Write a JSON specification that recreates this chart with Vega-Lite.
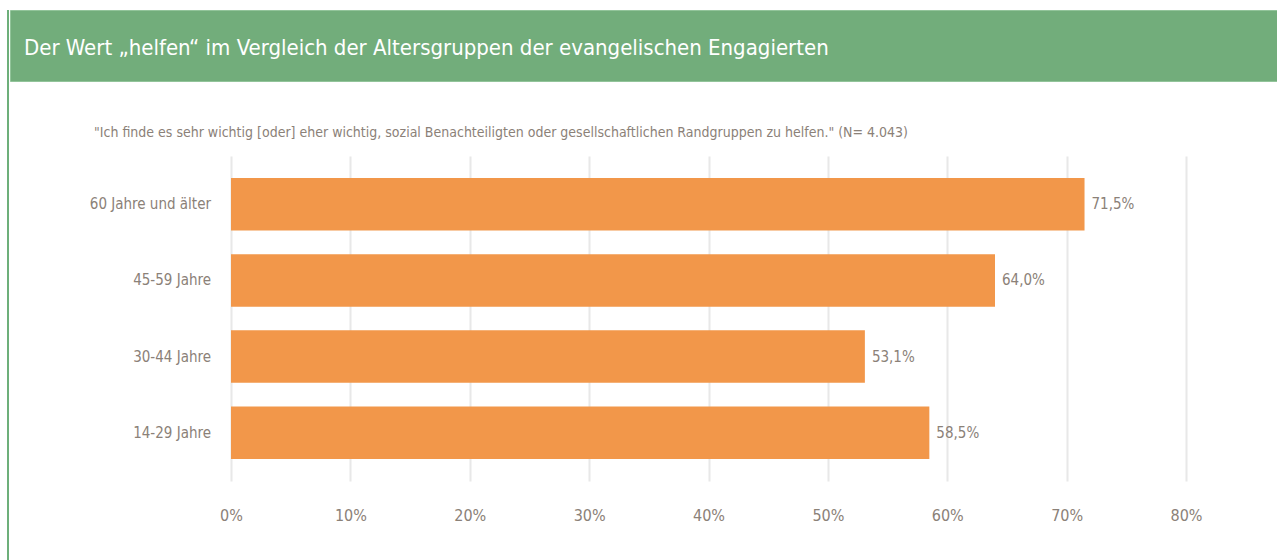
{
  "$schema": "https://vega.github.io/schema/vega-lite/v6.json",
  "padding": {"left": 7, "top": 9, "right": 0, "bottom": 0},
  "background": "white",
  "config": {
    "font": "DejaVu Sans Condensed, Liberation Sans Narrow, Roboto, sans-serif",
    "view": {"stroke": null},
    "locale": {"number": {"decimal": ",", "thousands": ".", "grouping": [3], "currency": ["", " €"]}}
  },
  "datasets": {
    "groups": [
      {"group": "60 Jahre und älter", "share": 0.715},
      {"group": "45-59 Jahre", "share": 0.64},
      {"group": "30-44 Jahre", "share": 0.531},
      {"group": "14-29 Jahre", "share": 0.585}
    ]
  },
  "spacing": 0,
  "hconcat": [
    {
      "data": {"values": []},
      "mark": "text",
      "width": 2,
      "height": 560,
      "view": {"fill": "#6DAF7A", "stroke": null}
    },
    {
      "spacing": 44,
      "vconcat": [
        {
          "width": 1270,
          "height": 71,
          "view": {"fill": "#72AD7B", "stroke": "#92C49A", "strokeWidth": 1},
          "data": {"values": [{"title": "Der Wert „helfen“ im Vergleich der Altersgruppen der evangelischen Engagierten"}]},
          "mark": {"type": "text", "align": "left", "baseline": "middle", "dx": 14, "dy": 2, "color": "white", "fontSize": 22},
          "encoding": {
            "text": {"field": "title"},
            "x": {"datum": 0, "type": "quantitative", "scale": {"domain": [0, 1]}, "axis": null}
          }
        },
        {
          "spacing": 8,
          "title": {
            "text": "\"Ich finde es sehr wichtig [oder] eher wichtig, sozial Benachteiligten oder gesellschaftlichen Randgruppen zu helfen.\" (N= 4.043)",
            "anchor": "start",
            "frame": "group",
            "dx": 84,
            "offset": 16,
            "fontSize": 14,
            "fontWeight": "normal",
            "color": "#8B8178"
          },
          "hconcat": [
            {
              "width": 201,
              "height": 325,
              "data": {"name": "groups"},
              "mark": {"type": "text", "align": "right", "baseline": "middle", "fontSize": 15, "color": "#8B8178"},
              "encoding": {
                "text": {"field": "group"},
                "y": {"field": "group", "type": "nominal", "sort": null, "scale": {"type": "band", "paddingInner": 0.31, "paddingOuter": 0.29}, "axis": null},
                "x": {"datum": 1, "type": "quantitative", "scale": {"domain": [0, 1]}, "axis": null}
              }
            },
            {
              "width": 955,
              "height": 325,
              "data": {"name": "groups"},
              "encoding": {
                "y": {"field": "group", "type": "nominal", "sort": null, "scale": {"type": "band", "paddingInner": 0.31, "paddingOuter": 0.29}, "axis": null},
                "x": {
                  "field": "share",
                  "type": "quantitative",
                  "scale": {"domain": [0, 0.8]},
                  "axis": {"title": null, "format": ".0%", "values": [0, 0.1, 0.2, 0.3, 0.4, 0.5, 0.6, 0.7, 0.8], "grid": true, "gridColor": "#E8E8E8", "gridWidth": 2, "domain": false, "ticks": false, "labelFlush": false, "labelFontSize": 16, "labelColor": "#8B8178", "labelPadding": 26}
                }
              },
              "layer": [
                {"mark": {"type": "bar", "color": "#F2974A"}},
                {"mark": {"type": "text", "align": "left", "dx": 7, "fontSize": 15, "color": "#8B8178"}, "encoding": {"text": {"field": "share", "format": ".1%"}}}
              ]
            }
          ]
        }
      ]
    }
  ]
}
